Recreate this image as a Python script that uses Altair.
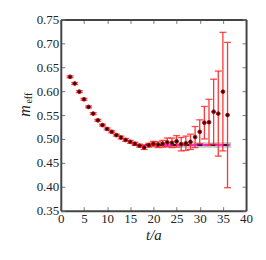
import altair as alt
import pandas as pd

t_vals = list(range(2, 37))
m_eff = [0.630, 0.616, 0.599, 0.583, 0.567, 0.553, 0.539, 0.529, 0.521, 0.515,
         0.508, 0.503, 0.498, 0.494, 0.490, 0.486, 0.482, 0.487, 0.490, 0.488,
         0.490, 0.493, 0.492, 0.495, 0.489, 0.491, 0.494, 0.504, 0.515, 0.534,
         0.535, 0.557, 0.553, 0.599, 0.550]
m_err = [0.002, 0.002, 0.002, 0.002, 0.002, 0.002, 0.002, 0.002, 0.002, 0.002,
         0.002, 0.003, 0.003, 0.003, 0.003, 0.003, 0.004, 0.004, 0.005, 0.006,
         0.007, 0.009, 0.010, 0.012, 0.014, 0.015, 0.016, 0.022, 0.025, 0.034,
         0.048, 0.068, 0.089, 0.124, 0.152]

fit_value = [0.4875]
fit_lo = [0.4815]
fit_hi = [0.4930]
fit_t_start = [15.5]
fit_t_end = [36.5]
band_t_start = [19.0]
band_t_end = [36.8]

x_ticks = [0, 5, 10, 15, 20, 25, 30, 35, 40]
y_ticks = [0.35, 0.40, 0.45, 0.50, 0.55, 0.60, 0.65, 0.70, 0.75]

pts = pd.DataFrame({"t": t_vals, "m": m_eff, "e": m_err})
pts["lo"] = pts["m"] - pts["e"]
pts["hi"] = pts["m"] + pts["e"]

fit = pd.DataFrame({"t0": fit_t_start, "t1": fit_t_end, "v": fit_value,
                    "b0": band_t_start, "b1": band_t_end, "lo": fit_lo, "hi": fit_hi})

FONT = "'Liberation Serif', 'Times New Roman', Times, serif"
xs = alt.Scale(domain=[0, 40], nice=False)
ys = alt.Scale(domain=[0.35, 0.75], nice=False)

tick_in = alt.ExprRef(expr="-4")

x_axis = alt.Axis(values=x_ticks, title="t/a", titleFontStyle="italic", titleFontWeight="normal",
                  titleFont=FONT, titleFontSize=15, labelFont=FONT, labelFontSize=13,
                  labelColor="#222", titleColor="#222", grid=False, tickSize=tick_in,
                  tickColor="#777", domainColor="#444", domainWidth=2, labelPadding=6,
                  titlePadding=2, labelFlush=False)
y_axis = alt.Axis(values=y_ticks, format=".2f", title=None, labelFont=FONT, labelFontSize=13,
                  labelColor="#222", grid=False, tickSize=tick_in, tickColor="#777",
                  domainColor="#444", domainWidth=2, labelPadding=6, labelFlush=False)
x_axis_top = alt.Axis(values=x_ticks, orient="top", labels=False, title=None, grid=False,
                      tickSize=tick_in, tickColor="#777", domainColor="#444", domainWidth=2)
y_axis_right = alt.Axis(values=y_ticks, orient="right", labels=False, title=None, grid=False,
                        tickSize=tick_in, tickColor="#777", domainColor="#444", domainWidth=2)

band = alt.Chart(fit).mark_rect(color="#b0b0b0", opacity=0.75).encode(
    x=alt.X("b0:Q", scale=xs, axis=x_axis), x2="b1:Q",
    y=alt.Y("lo:Q", scale=ys, axis=y_axis), y2="hi:Q")

fit_line = alt.Chart(fit).mark_rule(color="#ff00ff", strokeWidth=1.5).encode(
    x=alt.X("t0:Q", scale=xs, axis=x_axis_top), x2="t1:Q",
    y=alt.Y("v:Q", scale=ys, axis=y_axis_right))

fit_dash = alt.Chart(fit).mark_rule(color="black", strokeWidth=1.5, strokeDash=[5, 8]).encode(
    x=alt.X("t0:Q", scale=xs, axis=None), x2="t1:Q",
    y=alt.Y("v:Q", scale=ys, axis=None))

err = alt.Chart(pts).mark_rule(color="#ff2020", strokeWidth=1.3, opacity=0.9).encode(
    x=alt.X("t:Q", scale=xs, axis=None),
    y=alt.Y("lo:Q", scale=ys, axis=None), y2="hi:Q")

cap_hi = alt.Chart(pts).mark_tick(color="#ff2020", orient="horizontal", size=7,
                                  thickness=1.3, opacity=0.8).encode(
    x=alt.X("t:Q", scale=xs, axis=None), y=alt.Y("hi:Q", scale=ys, axis=None))
cap_lo = alt.Chart(pts).mark_tick(color="#ff2020", orient="horizontal", size=7,
                                  thickness=1.3, opacity=0.8).encode(
    x=alt.X("t:Q", scale=xs, axis=None), y=alt.Y("lo:Q", scale=ys, axis=None))

points = alt.Chart(pts).mark_point(filled=True, fill="#111", stroke="#cc0000",
                                   strokeWidth=1, size=14, opacity=1).encode(
    x=alt.X("t:Q", scale=xs, axis=None), y=alt.Y("m:Q", scale=ys, axis=None))

ylab_m = alt.Chart(fit).mark_text(text="m", font=FONT, fontStyle="italic", fontSize=16,
                                  angle=270, color="#222", align="center",
                                  baseline="middle").encode(
    x=alt.value(-36), y=alt.value(92))
ylab_eff = alt.Chart(fit).mark_text(text="eff", font=FONT, fontSize=10,
                                    angle=270, color="#222", align="center",
                                    baseline="middle").encode(
    x=alt.value(-32), y=alt.value(79))

chart = alt.layer(band, fit_line, fit_dash, err, cap_hi, cap_lo, points, ylab_m, ylab_eff).resolve_axis(
    x="independent", y="independent").properties(
    width=186, height=192, background="white",
    padding={"left": 9, "top": 5, "right": 5, "bottom": 5}).configure_view(stroke=None)

chart.save("out.html", embed_options={"renderer": "svg", "actions": False})
